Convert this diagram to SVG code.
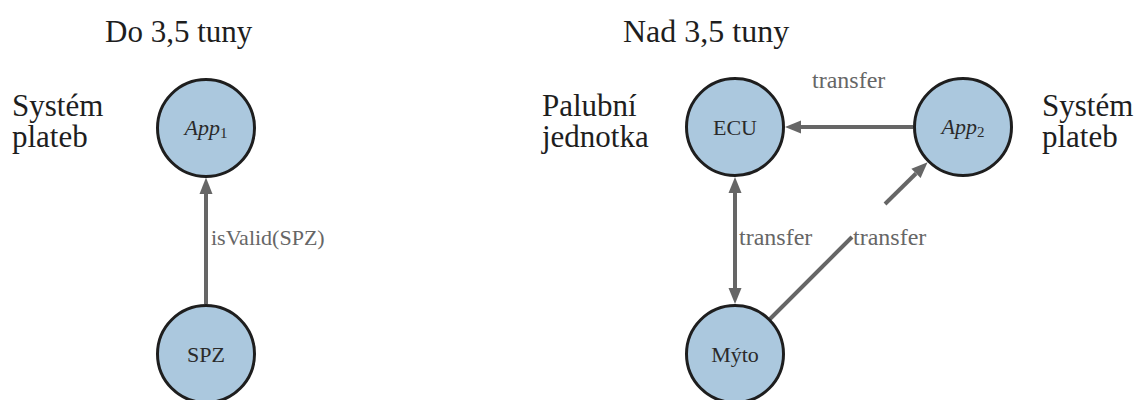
<svg xmlns="http://www.w3.org/2000/svg" width="1142" height="400" viewBox="0 0 1142 400">
<text x="105" y="42" font-family="Liberation Serif" font-size="31" fill="#1e1e1e">Do 3,5 tuny</text>
<text x="623" y="42" font-family="Liberation Serif" font-size="32" fill="#1e1e1e">Nad 3,5 tuny</text>
<text x="12" y="116" font-family="Liberation Serif" font-size="31" fill="#1e1e1e">Systém</text>
<text x="12" y="147" font-family="Liberation Serif" font-size="31" fill="#1e1e1e">plateb</text>
<text x="542" y="116" font-family="Liberation Serif" font-size="31" fill="#1e1e1e">Palubní</text>
<text x="542" y="147" font-family="Liberation Serif" font-size="31" fill="#1e1e1e">jednotka</text>
<text x="1042" y="116" font-family="Liberation Serif" font-size="31" fill="#1e1e1e">Systém</text>
<text x="1042" y="147" font-family="Liberation Serif" font-size="31" fill="#1e1e1e">plateb</text>
<g id="connectors">
<line x1="206" y1="304" x2="206" y2="194" stroke="#666666" stroke-width="4"/>
<polygon points="206,177.5 199.5,194 212.5,194" fill="#666666"/>
<line x1="913" y1="127" x2="801" y2="127" stroke="#666666" stroke-width="4"/>
<polygon points="785,127 801,120.5 801,133.5" fill="#666666"/>
<line x1="735" y1="193" x2="735" y2="288" stroke="#666666" stroke-width="4"/>
<polygon points="735,177 728.5,193 741.5,193" fill="#666666"/>
<polygon points="735,304 728.5,288 741.5,288" fill="#666666"/>
<line x1="770" y1="319" x2="852" y2="237" stroke="#666666" stroke-width="4"/>
<line x1="885" y1="204" x2="916" y2="173.5" stroke="#666666" stroke-width="4"/>
<polygon points="927.6,162.3 911.4,168.8 920.6,178" fill="#666666"/>
<text x="211" y="245" font-family="Liberation Serif" font-size="22" fill="#666666">isValid(SPZ)</text>
<text x="812" y="88" font-family="Liberation Serif" font-size="24" fill="#666666">transfer</text>
<text x="739" y="245" font-family="Liberation Serif" font-size="24" fill="#666666">transfer</text>
<text x="853" y="245" font-family="Liberation Serif" font-size="24" fill="#666666">transfer</text>
</g>
<g id="app1"><circle cx="206" cy="128" r="48.5" fill="#abc8de" stroke="#1e1e1e" stroke-width="3"/><text x="206" y="135" font-family="Liberation Serif" font-size="22" fill="#2a2a2a" text-anchor="middle" font-style="italic">App<tspan font-size="15" font-style="normal" dy="3">1</tspan></text></g>
<g id="spz"><circle cx="206" cy="354" r="48.5" fill="#abc8de" stroke="#1e1e1e" stroke-width="3"/><text x="206" y="362" font-family="Liberation Serif" font-size="22" fill="#2a2a2a" text-anchor="middle">SPZ</text></g>
<g id="ecu"><circle cx="735" cy="127" r="48.5" fill="#abc8de" stroke="#1e1e1e" stroke-width="3"/><text x="735" y="135" font-family="Liberation Serif" font-size="22" fill="#2a2a2a" text-anchor="middle">ECU</text></g>
<g id="app2"><circle cx="963" cy="127" r="48.5" fill="#abc8de" stroke="#1e1e1e" stroke-width="3"/><text x="963" y="134" font-family="Liberation Serif" font-size="22" fill="#2a2a2a" text-anchor="middle" font-style="italic">App<tspan font-size="15" font-style="normal" dy="3">2</tspan></text></g>
<g id="myto"><circle cx="735" cy="354" r="48.5" fill="#abc8de" stroke="#1e1e1e" stroke-width="3"/><text x="735" y="362" font-family="Liberation Serif" font-size="22" fill="#2a2a2a" text-anchor="middle">Mýto</text></g>
</svg>
